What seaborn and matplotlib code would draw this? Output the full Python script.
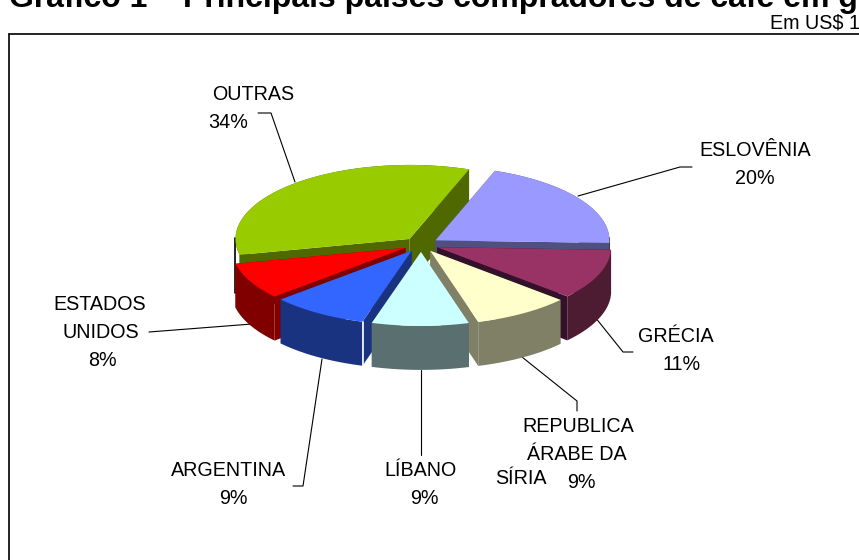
import numpy as np
import matplotlib
matplotlib.use("Agg")
import matplotlib.pyplot as plt
import seaborn as sns

# shares clockwise from the Eslovenia slice
countries = ["ESLOVÊNIA", "GRÉCIA", "REPUBLICA ÁRABE DA SÍRIA", "LÍBANO", "ARGENTINA", "ESTADOS UNIDOS", "OUTRAS"]
shares = [20, 11, 9, 9, 9, 8, 34]
top_colors = ["#9999FF", "#993366", "#FFFFCC", "#CCFFFF", "#3366FF", "#FF0000", "#99CC00"]
side_colors = ["#4F4F80", "#4D1C33", "#808066", "#5A6F6F", "#1A3380", "#800000", "#4F6900"]
face_colors = ["#4F4F80", "#33112A", "#808066", "#5A6F6F", "#1A3380", "#800000", "#4F6900"]

sns.set_theme(style="white")
plt.rcParams["font.family"] = ["Liberation Sans", "DejaVu Sans"]

fig, ax = plt.subplots(figsize=(8.59, 5.60), dpi=100)
ax.set_position([0, 0, 1, 1])
ax.set_xlim(0, 859)
ax.set_ylim(560, 0)
ax.axis("off")

# pie geometry in pixels
cx, cy = 421, 244.5
rx, ry = 174, 74
depth = 44
explode = 0.1
start = 20


def rim(x0, y0, a0, a1):
    a = np.radians(np.linspace(a0, a1, 80))
    return x0 + rx * np.sin(a), y0 - ry * np.cos(a)


def draw_slice(i, a0, a1, z):
    mid = np.radians((a0 + a1) / 2)
    x0 = cx + explode * rx * np.sin(mid)
    y0 = cy - explode * ry * np.cos(mid)
    xs, ys = rim(x0, y0, a0, a1)
    # the two cut faces
    for xe, ye in [(xs[0], ys[0]), (xs[-1], ys[-1])]:
        ax.fill([x0, xe, xe, x0], [y0, ye, ye + depth, y0 + depth], color=face_colors[i], lw=0, zorder=z)
    # outer wall
    ax.fill(np.r_[xs, xs[::-1]], np.r_[ys, ys[::-1] + depth], color=side_colors[i], lw=0, zorder=z)
    ax.fill(np.r_[x0, xs], np.r_[y0, ys], color=top_colors[i], lw=0, zorder=z)


angles = start + np.cumsum([0] + [s * 3.6 for s in shares])
# back slices first
order = [6, 0, 1, 5, 2, 4, 3]
for n, i in enumerate(order):
    draw_slice(i, angles[i], angles[i + 1], 2 + n)

# small edge details
ax.plot([235, 235], [238, 293], color="black", lw=1.2, zorder=1)
ax.plot([609, 609], [238, 293], color="black", lw=1.2, zorder=1)
ax.plot([362.5, 362.5], [322, 366], color="white", lw=1.2, zorder=20)

# leader lines
leaders = [
    ([258, 271, 295], [113, 113, 182]),
    ([692, 680, 578], [167, 167, 196]),
    ([633, 623, 595], [352, 352, 317]),
    ([577, 577, 522], [411, 401, 357]),
    ([421, 421], [370, 455]),
    ([293, 303, 322], [486, 486, 359]),
    ([149, 252], [332, 324]),
]
for lx, ly in leaders:
    ax.plot(lx, ly, color="black", lw=0.8, zorder=1)

# labels, one text per line like the source
label_lines = [
    ("OUTRAS", 253, 95), ("34%", 228, 123),
    ("ESLOVÊNIA", 755, 151), ("20%", 755, 179),
    ("GRÉCIA", 676, 336), ("11%", 682, 364),
    ("REPUBLICA", 578, 427), ("ÁRABE DA", 577, 454), ("SÍRIA", 521, 479), ("9%", 581, 483),
    ("LÍBANO", 420, 470), ("9%", 424, 498),
    ("ARGENTINA", 229, 470), ("9%", 233, 498),
    ("ESTADOS", 100, 304), ("UNIDOS", 101, 332), ("8%", 102, 360),
]
for txt, x, y in label_lines:
    ax.text(x, y, txt, ha="center", va="center", fontsize=14.2, color="black")

# frame, right and bottom run off the page
ax.plot([8.5, 8.5], [560, 33.5], color="black", lw=1.2, zorder=1)
ax.plot([8.5, 859], [33.5, 33.5], color="black", lw=1.2, zorder=1)

ax.text(9, 7, "Gráfico 1 – Principais países compradores de café em grão", fontsize=23, fontweight="bold", ha="left", va="baseline", color="black")
ax.text(770, 29, "Em US$ 1.000", fontsize=14.2, ha="left", va="baseline", color="black")

fig.savefig("out.png", dpi=100)
